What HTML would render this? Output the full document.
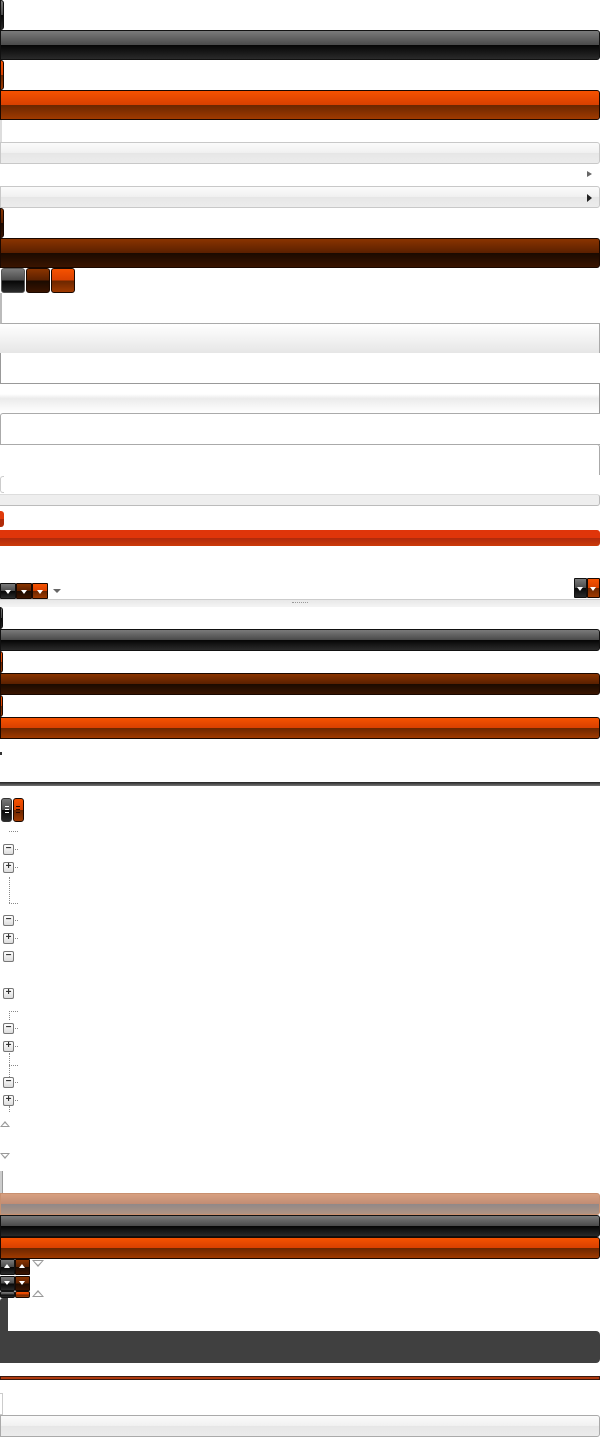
<!DOCTYPE html>
<html><head><style>
html,body{margin:0;padding:0;background:#fff;width:600px;height:1437px;overflow:hidden;position:relative;font-family:"Liberation Sans",sans-serif}
div{position:absolute;box-sizing:border-box}
.blk{background:linear-gradient(#7a7a7a,#4a4a4a 50%,#050505 50%,#2a2a2a);border:1px solid #111;border-radius:0 3px 3px 0}
.org{background:linear-gradient(#f65200,#d84000 50%,#6a2600 50%,#a03a00);border:1px solid #1a0800;border-radius:0 3px 3px 0}
.dorg{background:linear-gradient(#8a3400,#5a2000 50%,#1a0a00 50%,#3a1400);border:1px solid #1a0800;border-radius:0 3px 3px 0}
.lt{background:linear-gradient(#fbfbfb,#f0f0f0 50%,#e6e6e6 50%,#ececec);border:1px solid #c8c8c8;border-radius:0 3px 3px 0}
.tree{width:11px;height:11px;border:1px solid #777;border-radius:2px;background:linear-gradient(#fff,#ddd);font:bold 10px/8px "Liberation Sans",sans-serif;text-align:center;color:#333}
.dot{border-top:1px dotted #888}
.vdot{border-left:1px dotted #888}
</style></head><body>
<div class="blk" style="left:0;top:0;width:4px;height:30px"></div>
<div class="blk" style="left:0;top:30px;width:600px;height:30px"></div>
<div class="org" style="left:0;top:60px;width:4px;height:30px"></div>
<div class="org" style="left:0;top:90px;width:600px;height:30px"></div>
<div style="left:0;top:120px;width:2px;height:22px;background:#ddd"></div>
<div class="lt" style="left:0;top:142px;width:600px;height:22px"></div>
<div style="left:587px;top:171px;width:0;height:0;border-left:5px solid #666;border-top:3px solid transparent;border-bottom:3px solid transparent"></div>
<div class="lt" style="left:0;top:186px;width:600px;height:22px"></div>
<div style="left:587px;top:194px;width:0;height:0;border-left:5px solid #222;border-top:4px solid transparent;border-bottom:4px solid transparent"></div>
<div class="dorg" style="left:0;top:208px;width:4px;height:30px"></div>
<div class="dorg" style="left:0;top:238px;width:600px;height:30px"></div>
<div class="blk" style="left:1px;top:268px;width:24px;height:25px;border-radius:3px;border-color:#555"></div>
<div class="dorg" style="left:26px;top:268px;width:24px;height:25px;border-radius:3px"></div>
<div class="org" style="left:51px;top:268px;width:24px;height:25px;border-radius:3px"></div>

<div style="left:0;top:293px;width:600px;height:31px;border-left:2px solid #bbb;border-bottom:1px solid #aaa"></div>
<div style="left:0;top:324px;width:600px;height:29px;background:linear-gradient(#fff,#e6e6e6);border-right:1px solid #aaa"></div>
<div style="left:0;top:353px;width:600px;height:31px;border-left:1px solid #999;border-bottom:1px solid #999"></div>
<div style="left:0;top:384px;width:600px;height:29px;border-right:1px solid #999;background:linear-gradient(#fff 0,#fff 35%,#ebebeb 50%,#fff 100%)"></div>
<div style="left:0;top:413px;width:600px;height:32px;border:1px solid #aaa;border-right:none;border-radius:3px 0 0 0"></div>
<div style="left:0;top:444px;width:600px;height:31px;border-top:1px solid #aaa;border-right:1px solid #aaa;border-radius:0 3px 0 0"></div>
<div style="left:0;top:476px;width:4px;height:17px;border:1px solid #ccc;border-right:none;border-radius:3px 0 0 3px"></div>
<div style="left:0;top:494px;width:600px;height:12px;background:#eee;border:1px solid #bbb;border-left:none;border-top-color:#ddd;border-radius:0 3px 3px 0"></div>
<div style="left:0;top:511px;width:4px;height:16px;background:linear-gradient(#e03a0a 50%,#b02a08 50%);border-radius:0 3px 3px 0"></div>
<div style="left:0;top:530px;width:600px;height:16px;background:linear-gradient(#e0350a 50%,#b02a0c 50%,#cc3a0a);border-radius:0 3px 3px 0"></div>

<div class="blk" style="left:0;top:583px;width:16px;height:16px;border-radius:1px"></div>
<div class="dorg" style="left:16px;top:583px;width:16px;height:16px;border-radius:1px"></div>
<div class="org" style="left:32px;top:583px;width:16px;height:16px;border-radius:1px"></div>
<div style="left:5px;top:590px;border-top:4px solid #fff;border-left:3px solid transparent;border-right:3px solid transparent"></div>
<div style="left:21px;top:590px;border-top:4px solid #fff;border-left:3px solid transparent;border-right:3px solid transparent"></div>
<div style="left:37px;top:590px;border-top:4px solid #fff;border-left:3px solid transparent;border-right:3px solid transparent"></div>
<div style="left:53px;top:589px;border-top:4px solid #666;border-left:4px solid transparent;border-right:4px solid transparent"></div>
<div class="blk" style="left:574px;top:578px;width:13px;height:20px;border-radius:1px"></div>
<div class="org" style="left:587px;top:578px;width:13px;height:20px;border-radius:1px"></div>
<div style="left:577px;top:587px;border-top:4px solid #fff;border-left:3px solid transparent;border-right:3px solid transparent"></div>
<div style="left:590px;top:587px;border-top:4px solid #fff;border-left:3px solid transparent;border-right:3px solid transparent"></div>
<div style="left:0;top:599px;width:600px;height:8px;background:linear-gradient(#e8e8e8,#f4f4f4);border-top:1px solid #ccc"></div>
<div style="left:292px;top:602px;width:16px;height:1px;border-top:1px dotted #999"></div>

<div class="blk" style="left:0;top:607px;width:3px;height:22px"></div>
<div class="blk" style="left:0;top:629px;width:600px;height:22px"></div>
<div class="org" style="left:0;top:651px;width:3px;height:22px"></div>
<div class="dorg" style="left:0;top:673px;width:600px;height:22px"></div>
<div class="org" style="left:0;top:695px;width:3px;height:22px"></div>
<div class="org" style="left:0;top:717px;width:600px;height:22px"></div>
<div style="left:0;top:752px;width:2px;height:3px;background:#333"></div>
<div style="left:0;top:782px;width:600px;height:4px;background:linear-gradient(#222,#777)"></div>

<div class="blk" style="left:1px;top:798px;width:11px;height:24px;border-radius:3px;border-color:#333"></div>
<div class="org" style="left:13px;top:798px;width:11px;height:24px;border-radius:3px"></div>
<div style="left:5px;top:806px;width:4px;height:7px;border-top:1px solid #fff;border-bottom:1px solid #fff;background:linear-gradient(transparent 40%,#fff 40%,#fff 60%,transparent 60%)"></div>
<div style="left:16px;top:806px;width:4px;height:7px;border-top:1px solid #2a0800;border-bottom:1px solid #2a0800;background:linear-gradient(transparent 40%,#2a0800 40%,#2a0800 60%,transparent 60%)"></div>

<div class="dot" style="left:9px;top:831px;width:9px"></div>
<div class="tree" style="left:3px;top:844px">−</div><div class="dot" style="left:15px;top:849px;width:3px"></div>
<div class="tree" style="left:3px;top:862px">+</div><div class="dot" style="left:15px;top:867px;width:3px"></div>
<div class="vdot" style="left:9px;top:877px;height:26px"></div><div class="dot" style="left:9px;top:903px;width:9px"></div>
<div class="tree" style="left:3px;top:915px">−</div><div class="dot" style="left:15px;top:920px;width:3px"></div>
<div class="tree" style="left:3px;top:933px">+</div><div class="dot" style="left:15px;top:938px;width:3px"></div>
<div class="tree" style="left:3px;top:951px">−</div>
<div class="tree" style="left:3px;top:988px">+</div>
<div class="vdot" style="left:9px;top:1011px;height:9px"></div><div class="dot" style="left:9px;top:1011px;width:9px"></div>
<div class="tree" style="left:3px;top:1023px">−</div><div class="dot" style="left:15px;top:1028px;width:3px"></div>
<div class="tree" style="left:3px;top:1041px">+</div><div class="dot" style="left:15px;top:1046px;width:3px"></div>
<div class="vdot" style="left:9px;top:1053px;height:24px"></div><div class="dot" style="left:9px;top:1065px;width:9px"></div>
<div class="tree" style="left:3px;top:1077px">−</div><div class="dot" style="left:15px;top:1082px;width:3px"></div>
<div class="tree" style="left:3px;top:1095px">+</div><div class="dot" style="left:15px;top:1100px;width:3px"></div>
<div class="vdot" style="left:9px;top:1106px;height:6px"></div>

<div style="left:0;top:1121px;border-bottom:6px solid #999;border-left:5px solid transparent;border-right:5px solid transparent"></div>
<div style="left:2px;top:1123px;border-bottom:3px solid #fff;border-left:3px solid transparent;border-right:3px solid transparent"></div>
<div style="left:0;top:1153px;border-top:6px solid #999;border-left:5px solid transparent;border-right:5px solid transparent"></div>
<div style="left:2px;top:1154px;border-top:3px solid #fff;border-left:3px solid transparent;border-right:3px solid transparent"></div>

<div style="left:0;top:1171px;width:3px;height:22px;background:#ccc;border-right:1px solid #999"></div>
<div style="left:0;top:1193px;width:600px;height:22px;background:linear-gradient(#d8a080,#c08c74 50%,#908888 50%,#b09484);border:1px solid #c89070;border-radius:0 3px 3px 0"></div>
<div class="blk" style="left:0;top:1215px;width:600px;height:22px"></div>
<div class="org" style="left:0;top:1237px;width:600px;height:22px"></div>
<div class="blk" style="left:0;top:1259px;width:15px;height:16px;border-radius:1px"></div>
<div class="dorg" style="left:15px;top:1259px;width:15px;height:16px;border-radius:1px"></div>
<div style="left:4px;top:1264px;border-bottom:4px solid #fff;border-left:3px solid transparent;border-right:3px solid transparent"></div>
<div style="left:19px;top:1264px;border-bottom:4px solid #fff;border-left:3px solid transparent;border-right:3px solid transparent"></div>
<div style="left:32px;top:1260px;border-top:7px solid #999;border-left:6px solid transparent;border-right:6px solid transparent"></div>
<div style="left:34px;top:1261px;border-top:4px solid #fff;border-left:4px solid transparent;border-right:4px solid transparent"></div>
<div class="blk" style="left:0;top:1276px;width:15px;height:15px;border-radius:1px"></div>
<div class="dorg" style="left:15px;top:1276px;width:15px;height:15px;border-radius:1px"></div>
<div style="left:4px;top:1281px;border-top:4px solid #fff;border-left:3px solid transparent;border-right:3px solid transparent"></div>
<div style="left:19px;top:1281px;border-top:4px solid #fff;border-left:3px solid transparent;border-right:3px solid transparent"></div>
<div class="blk" style="left:0;top:1291px;width:15px;height:7px;border-radius:2px"></div>
<div class="org" style="left:15px;top:1291px;width:15px;height:7px;border-radius:2px"></div>
<div style="left:32px;top:1290px;border-bottom:7px solid #999;border-left:6px solid transparent;border-right:6px solid transparent"></div>
<div style="left:34px;top:1292px;border-bottom:4px solid #fff;border-left:4px solid transparent;border-right:4px solid transparent"></div>
<div style="left:0;top:1298px;width:8px;height:33px;background:#404040;border-radius:3px 0 0 0"></div>
<div style="left:0;top:1331px;width:600px;height:32px;background:#404040;border-radius:0 4px 4px 0"></div>
<div style="left:0;top:1376px;width:600px;height:4px;background:#b03a10;border:1px solid #3a1a10"></div>
<div style="left:0;top:1393px;width:3px;height:22px;border:1px solid #ccc;border-left:none"></div>
<div class="lt" style="left:0;top:1415px;width:600px;height:22px;border-color:#aaa"></div>
</body></html>
